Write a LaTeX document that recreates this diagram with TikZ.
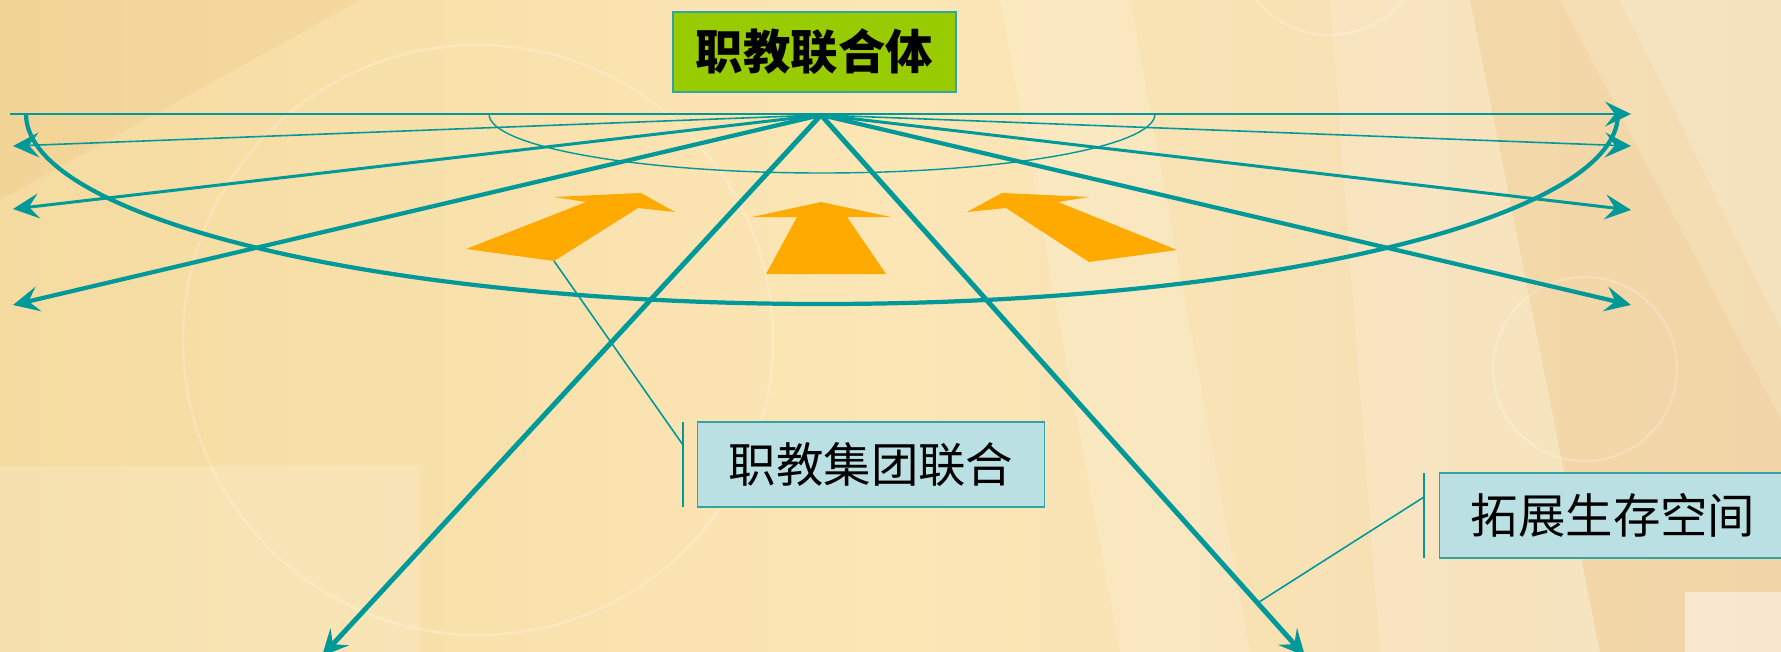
\documentclass[tikz,border=0pt]{standalone}
\usepackage{fontspec}
\newfontfamily\cjk{Noto Sans CJK SC}
\usetikzlibrary{arrows.meta,calc}
\definecolor{teal1}{HTML}{009999}
\definecolor{boxline}{HTML}{33A3A3}
\definecolor{greenbox}{HTML}{99CC00}
\definecolor{bluebox}{HTML}{BBE0E3}
\definecolor{orangea}{HTML}{FFAA00}
\definecolor{bgA}{HTML}{F5DBA0}
\definecolor{bgB}{HTML}{FCE6B6}
\definecolor{bgC}{HTML}{F3DCB2}
\tikzset{
  arr/.style={-{Stealth[length=0.52cm,width=0.5cm,inset=0.2cm]}},
  thinray/.style={draw=teal1,line width=0.9pt},
  midray/.style={draw=teal1,line width=1.7pt},
  thickray/.style={draw=teal1,line width=2.4pt},
  bigray/.style={draw=teal1,line width=2.8pt},
  leader/.style={draw=teal1,line width=0.9pt},
  orangearrow/.style={fill=orangea,draw=none},
  cjktext/.style={font=\cjk\fontsize{27}{32}\selectfont,text=black,inner sep=0pt},
  topbox/.style={cjktext,fill=greenbox,draw=boxline,line width=1pt,minimum width=5.66cm,minimum height=1.6cm,font=\cjk\bfseries\fontsize{27}{32}\selectfont},
  calloutbox/.style={cjktext,fill=bluebox,draw=boxline,line width=1pt,minimum width=6.94cm,minimum height=1.7cm},
  bgray/.style={fill=white,fill opacity=0.16,draw=none},
  bgdark/.style={fill=brown!60!orange,fill opacity=0.07,draw=none},
  bgring/.style={draw=white,draw opacity=0.2,line width=1.5pt}
}
\begin{document}
\begin{tikzpicture}[x=0.02cm,y=-0.02cm]
\useasboundingbox (0,0) rectangle (1781,652);
\clip (0,0) rectangle (1781,652);
% background
\fill[left color=bgA,right color=bgC,middle color=bgB] (0,0) rectangle (1781,652);
\fill[bgray] (1330,0) -- (1470,0) -- (1600,652) -- (1380,652) -- cycle;
\fill[bgdark] (1470,0) -- (1560,0) -- (1781,420) -- (1781,652) -- (1600,652) -- cycle;
\fill[bgray] (1620,0) -- (1781,0) -- (1781,330) -- cycle;
\fill[bgray] (1000,0) -- (1130,0) -- (1250,652) -- (1120,652) -- cycle;
\fill[bgdark] (0,0) -- (360,0) -- (0,200) -- cycle;
\fill[bgray] (0,466) rectangle (420,652);
\fill[white,fill opacity=0.45] (1685,592) rectangle (1781,652);
\draw[bgring] (478,340) circle (295);
\draw[bgring] (1585,369) circle (92);
\draw[bgring] (1330,-60) circle (95);
% coordinates
\coordinate (apex) at (821,115);
\coordinate (hl) at (10,114);
\coordinate (hr) at (1631,114);
\coordinate (l1) at (13,146);
\coordinate (r1) at (1631,146);
\coordinate (l2) at (13,209);
\coordinate (r2) at (1631,210);
\coordinate (l3) at (13,305);
\coordinate (r3) at (1631,305);
\coordinate (bl) at (322,656);
\coordinate (br) at (1305,656);
% ellipses (lower halves)
\draw[teal1,line width=0.8pt] (489,114) arc[start angle=180,end angle=0,x radius=333,y radius=59];
\draw[teal1,line width=2.4pt] (26,114) arc[start angle=180,end angle=0,x radius=796,y radius=190];
% rays
\draw[thinray,arr] (hl) -- (hr);
\draw[thinray,arr] (apex) -- (l1);
\draw[thinray,arr] (apex) -- (r1);
\draw[midray,arr] (apex) -- (l2);
\draw[midray,arr] (apex) -- (r2);
\draw[thickray,arr] (apex) -- (l3);
\draw[thickray,arr] (apex) -- (r3);
\draw[bigray,arr] (apex) -- (bl);
\draw[bigray,arr] (apex) -- (br);
% orange block arrows
\coordinate (oa) at (554,261);
\fill[orangearrow] (466,249) -- (586,202) -- (554,197) -- (641,193) -- (675,212) -- (638,208) -- (oa) -- cycle;
\fill[orangearrow] (821,202) -- (891,217) -- (847,217) -- (886,274) -- (766,274) -- (797,217) -- (752,217) -- cycle;
\fill[orangearrow] (1002,193) -- (967,212) -- (1006,208) -- (1089,262) -- (1177,250) -- (1058,202) -- (1089,197) -- cycle;
% boxes
\node[topbox] (top) at (814.5,52) {职教联合体};
\node[calloutbox] (c1) at (871,464.5) {职教集团联合};
\node[calloutbox] (c2) at (1613,515.5) {拓展生存空间};
% callout leaders
\coordinate (b1t) at (683,422);
\coordinate (b1b) at (683,507);
\coordinate (b1m) at (683,445);
\draw[leader] (b1t) -- (b1b);
\draw[leader] (oa) -- (b1m);
\coordinate (b2t) at (1424,473);
\coordinate (b2b) at (1424,558);
\coordinate (b2m) at (1424,497);
\coordinate (p2) at ($(apex)!0.902!(br)$);
\draw[leader] (b2t) -- (b2b);
\draw[leader] (p2) -- (b2m);
\end{tikzpicture}
\end{document}
